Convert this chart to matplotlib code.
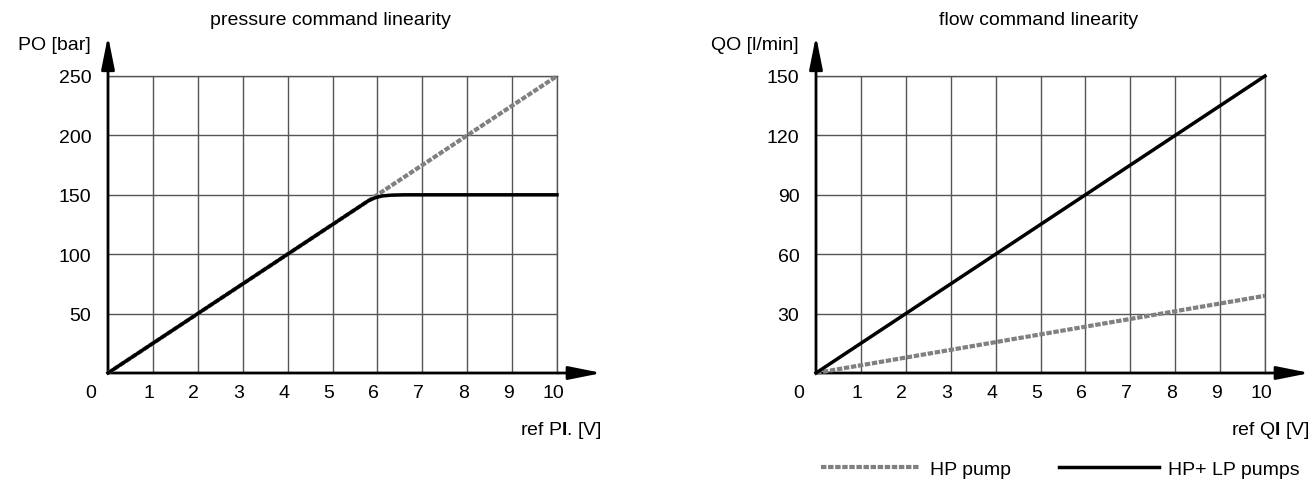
import numpy as np
import matplotlib
matplotlib.use("Agg")
import matplotlib.pyplot as plt
import matplotlib.transforms as mtransforms
from matplotlib.lines import Line2D

plt.rcParams['font.family'] = ['Liberation Sans', 'DejaVu Sans']
plt.rcParams['font.size'] = 14
plt.rcParams['mathtext.fontset'] = 'custom'
plt.rcParams['mathtext.rm'] = 'Liberation Sans'
plt.rcParams['mathtext.bf'] = 'Liberation Sans:bold'

# pressure chart data
pressRef = [0, 10]
pressHP = [0, 250]
pressAllX = [0, 5.8, 5.95, 6.1, 6.3, 6.6, 10]
pressAllY = [0, 145, 147.5, 149, 149.7, 150, 150]
pressYTicks = [50, 100, 150, 200, 250]

# flow chart data
flowRef = [0, 10]
flowHP = [0, 39]
flowAll = [0, 150]
flowYTicks = [30, 60, 90, 120, 150]

xTicks = list(range(1, 11))
gridCol = '#555555'
dashCol = '#808080'
dashPat = (1.3, 0.4)


def setupAxes(fig, ax, ymax, yticks, ylabel, xlabel, title):
    ax.set_xlim(0, 10)
    ax.set_ylim(0, ymax)
    ax.set_xticks(xTicks)
    ax.set_yticks(yticks)
    ax.tick_params(length=0, labelsize=14)
    ax.tick_params(axis='x', pad=8)
    ax.tick_params(axis='y', pad=12)
    # x tick labels sit a bit left of the grid lines
    shift = mtransforms.ScaledTranslation(-4 / 100, 0, fig.dpi_scale_trans)
    for lab in ax.get_xticklabels():
        lab.set_transform(lab.get_transform() + shift)
    ax.grid(True, color=gridCol, lw=1)
    for s in ['left', 'bottom']:
        ax.spines[s].set_visible(False)
    for s in ['top', 'right']:
        ax.spines[s].set_color(gridCol)
        ax.spines[s].set_linewidth(1)
    # arrows for axes
    arrowStyle = dict(arrowstyle='-|>,head_length=2.0,head_width=0.4', mutation_scale=10,
                      lw=2, color='black', shrinkA=0, shrinkB=0)
    ax.annotate('', xy=(1.10, 0), xytext=(0, 0), xycoords='axes fraction',
                arrowprops=arrowStyle, annotation_clip=False)
    ax.annotate('', xy=(0, 1.135), xytext=(0, 0), xycoords='axes fraction',
                arrowprops=arrowStyle, annotation_clip=False)
    ax.text(-0.038, -0.064, '0', transform=ax.transAxes, ha='center', va='center')
    ax.text(-0.038, 1.105, ylabel, transform=ax.transAxes, ha='right', va='center')
    ax.text(1.10, -0.19, xlabel, transform=ax.transAxes, ha='right', va='center')
    ax.text(0.495, 1.19, title, transform=ax.transAxes, ha='center', va='center')


fig = plt.figure(figsize=(13.14, 4.81), dpi=100)
ax1 = fig.add_axes([108 / 1314, 107 / 481, 449 / 1314, 297 / 481])
ax2 = fig.add_axes([816 / 1314, 107 / 481, 449 / 1314, 297 / 481])

setupAxes(fig, ax1, 250, pressYTicks, 'PO [bar]', r'ref P$\mathbf{I}$. [V]', 'pressure command linearity')
setupAxes(fig, ax2, 150, flowYTicks, 'QO [l/min]', r'ref Q$\mathbf{I}$ [V]', 'flow command linearity')

ax1.plot(pressRef, pressHP, color=dashCol, lw=3, dashes=dashPat, clip_on=False, zorder=3)
ax1.plot(pressAllX, pressAllY, color='black', lw=2.5, clip_on=False, zorder=4)

hpLine, = ax2.plot(flowRef, flowHP, color=dashCol, lw=3, dashes=dashPat, clip_on=False, zorder=3)
allLine, = ax2.plot(flowRef, flowAll, color='black', lw=2.5, clip_on=False, zorder=4)

fig.legend([hpLine, allLine], ['HP pump', 'HP+ LP pumps'], loc='center right',
           bbox_to_anchor=(1300 / 1314, 1 - 470 / 481), ncol=2, frameon=False,
           handlelength=5.1, handletextpad=0.5, columnspacing=2.5,
           borderpad=0, borderaxespad=0, fontsize=14)

fig.savefig('out.png', dpi=100)
